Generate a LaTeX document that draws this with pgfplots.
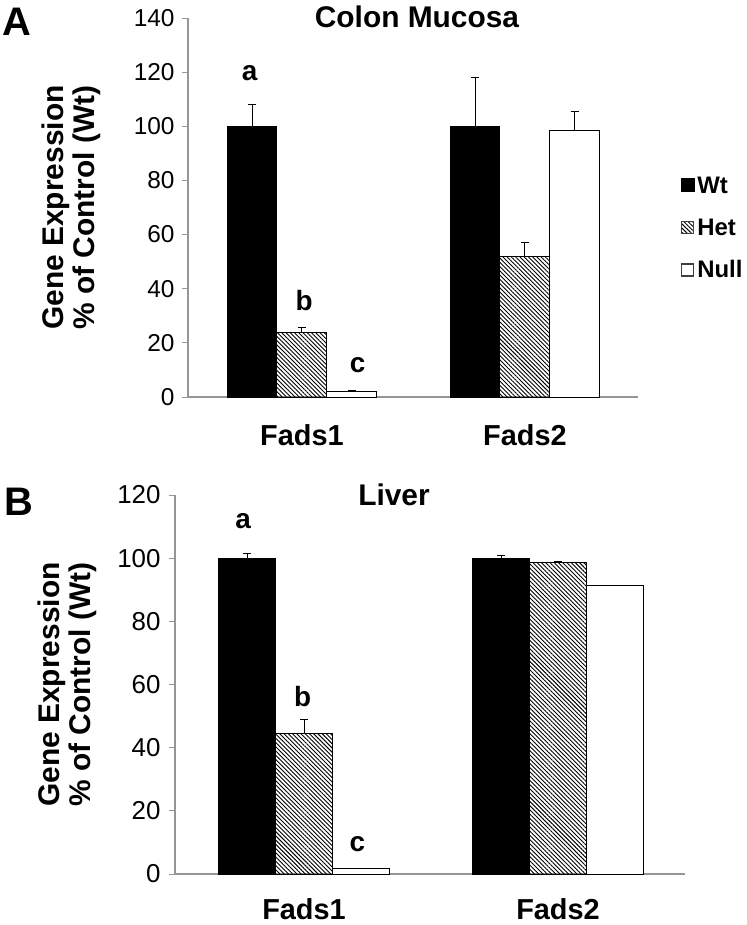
\documentclass[border=0pt]{standalone}
\usepackage{fontspec}
\setmainfont{Liberation Sans}
\usepackage{pgfplots}
\pgfplotsset{compat=1.18}
\usetikzlibrary{patterns.meta}
\definecolor{axgray}{RGB}{150,150,150}

\pgfplotstableread{
x y e
-0.224 100 8
0.776 100 18
}\AWt
\pgfplotstableread{
x y e
0 24 1.7
1 52 5
}\AHet
\pgfplotstableread{
x y e
0.224 2 0.3
1.224 98.5 6.8
}\ANull
\pgfplotstableread{
x y e
-0.224 100 1.5
0.776 100 1
}\BWt
\pgfplotstableread{
x y e
0 44.5 4.3
1 98.6 0.2
}\BHet
\pgfplotstableread{
x y e
0.224 1.6 0.2
1.224 91.2 0.3
}\BNull

\tikzset{letter/.style={font=\fontsize{28}{28}\selectfont\bfseries, anchor=base, inner sep=0pt}}

\pgfplotsset{
  myaxis/.style={
    scale only axis,
    clip=false,
    axis x line=bottom, axis y line=left,
    axis line style={-, draw=axgray, line width=1.2bp},
    xtick={0,1}, xticklabels={Fads1,Fads2},
    x tick style={draw=none},
    y tick style={draw=axgray, line width=1bp},
    tick align=outside, major tick length=6bp,
    minor tick num=0,
    xticklabel style={font=\fontsize{29}{30}\selectfont\bfseries, anchor=base, text depth=0pt, inner sep=0pt},
    /pgf/number format/assume math mode=true,
    ylabel={Gene Expression\\\% of Control (Wt)},
    ylabel style={font=\fontsize{30}{31}\selectfont\bfseries, align=center, anchor=center},
    every axis title shift=0pt,
    title style={font=\fontsize{30}{30}\selectfont\bfseries, at={(axis description cs:0.5,1)}, anchor=base},
    ybar, bar width=0.224, bar shift=0pt,
    every axis plot/.append style={line width=1bp},
    error bars/y dir=plus, error bars/y explicit,
    error bars/error bar style={black, line width=1bp},
    error bars/error mark options={rotate=90, mark size=4bp, black, line width=1bp},
  },
  wtbar/.style={fill=black, draw=black},
  hetbar/.style={draw=black, pattern={Lines[angle=-45,distance=3bp,line width=0.9bp]}},
  nullbar/.style={fill=white, draw=black},
}

\begin{document}
\begin{tikzpicture}[x=1bp,y=1bp]
\useasboundingbox (0,0) rectangle (747,-925);

\begin{axis}[myaxis,
  at={(188bp,-397bp)}, anchor=south west,
  width=450bp, height=379bp,
  xmin=-0.511, xmax=1.507, ymin=0, ymax=140,
  ytick={0,20,...,140},
  xticklabel style={yshift=-42bp},
  yticklabel style={font=\fontsize{24.5}{25}\selectfont, anchor=east, xshift=-4bp},
  title={Colon Mucosa},
  title style={xshift=4bp, yshift=-9bp},
  ylabel style={at={(axis description cs:-0.26,0.5)}},
  legend style={at={(1.089,0.446)}, anchor=west, draw=none, fill=none,
    font=\fontsize{24}{25}\selectfont\bfseries, row sep=24bp,
    nodes={inner xsep=2bp, inner ysep=0bp}},
  legend cell align=left,
]
\addplot[wtbar, legend image code/.code={\fill[black] (0bp,-6bp) rectangle (13bp,7bp);}]
  table[x=x, y=y, y error=e] {\AWt};
\addlegendentry{Wt}
\addplot[hetbar, legend image code/.code={\draw[draw=darkgray, line width=1bp, pattern={Lines[angle=-45,distance=3bp,line width=0.9bp]}] (0bp,-6bp) rectangle (12bp,6bp);}]
  table[x=x, y=y, y error=e] {\AHet};
\addlegendentry{Het}
\addplot[nullbar, legend image code/.code={\draw[draw=darkgray, line width=1.2bp, fill=white] (0bp,-6bp) rectangle (12bp,6bp);}]
  table[x=x, y=y, y error=e] {\ANull};
\addlegendentry{Null}
\node[letter] at (axis cs:-0.235,117) {a};
\node[letter] at (axis cs:0.01,32) {b};
\node[letter] at (axis cs:0.25,9) {c};
\end{axis}

\begin{axis}[myaxis,
  at={(175bp,-874bp)}, anchor=south west,
  width=510bp, height=379bp,
  xmin=-0.508, xmax=1.5, ymin=0, ymax=120,
  ytick={0,20,...,120},
  xticklabel style={yshift=-39bp},
  yticklabel style={font=\fontsize{26}{27}\selectfont, anchor=east, xshift=-5bp},
  title={Liver},
  title style={xshift=-36bp, yshift=-10bp},
  ylabel style={at={(axis description cs:-0.212,0.5)}},
]
\addplot[wtbar] table[x=x, y=y, y error=e] {\BWt};
\addplot[hetbar] table[x=x, y=y, y error=e] {\BHet};
\addplot[nullbar] table[x=x, y=y, y error=e] {\BNull};
\node[letter] at (axis cs:-0.24,109.5) {a};
\node[letter] at (axis cs:-0.005,53) {b};
\node[letter] at (axis cs:0.21,7) {c};
\end{axis}

\node[anchor=base west, inner sep=0pt, font=\fontsize{40}{40}\selectfont\bfseries] at (2,-35) {A};
\node[anchor=base west, inner sep=0pt, font=\fontsize{40}{40}\selectfont\bfseries] at (4,-515) {B};
\end{tikzpicture}
\end{document}
